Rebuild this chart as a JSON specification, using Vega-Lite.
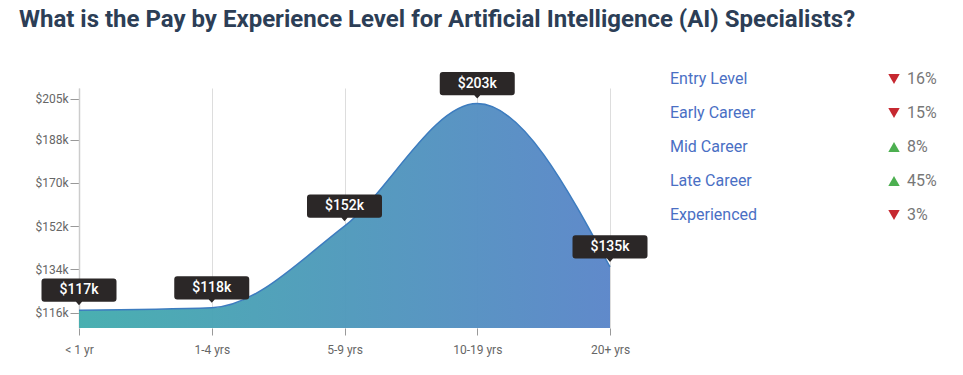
{
  "$schema": "https://vega.github.io/schema/vega-lite/v6.json",
  "background": "white",
  "padding": {"left": 18, "top": 8, "right": 5, "bottom": 5},
  "config": {"font": "Roboto", "view": {"stroke": null}},
  "title": {"text": "What is the Pay by Experience Level for Artificial Intelligence (AI) Specialists?", "anchor": "start", "fontSize": 24, "fontWeight": "bold", "color": "#2c3e56", "font": "Roboto", "offset": 39, "frame": "bounds", "dx": -16},
  "datasets": {
    "pay": [
      {"exp": "< 1 yr", "pay": 117, "label": "$117k"},
      {"exp": "1-4 yrs", "pay": 118, "label": "$118k"},
      {"exp": "5-9 yrs", "pay": 152, "label": "$152k"},
      {"exp": "10-19 yrs", "pay": 203, "label": "$203k"},
      {"exp": "20+ yrs", "pay": 135, "label": "$135k"}
    ],
    "legend": [
      {"level": "Entry Level", "dir": "down", "pct": "16%"},
      {"level": "Early Career", "dir": "down", "pct": "15%"},
      {"level": "Mid Career", "dir": "up", "pct": "8%"},
      {"level": "Late Career", "dir": "up", "pct": "45%"},
      {"level": "Experienced", "dir": "down", "pct": "3%"}
    ]
  },
  "hconcat": [
    {
      "width": 531,
      "height": 240,
      "data": {"name": "pay"},
      "encoding": {
        "x": {"field": "exp", "type": "ordinal", "sort": null, "scale": {"type": "point", "padding": 0},
          "axis": {"title": null, "labelAngle": 0, "labelColor": "#666", "labelFontSize": 12, "labelPadding": 9, "tickSize": 7, "tickColor": "#999", "domain": false, "grid": true, "gridColor": "#ddd", "gridWidth": 1}}
      },
      "layer": [
        {
          "mark": {"type": "area", "interpolate": "monotone", "color": {"gradient": "linear", "x1": 0, "x2": 1, "y1": 0, "y2": 0, "stops": [{"offset": 0, "color": "#44adae"}, {"offset": 1, "color": "#5b86c9"}]}, "opacity": 0.97},
          "encoding": {
            "y": {"field": "pay", "type": "quantitative", "scale": {"domain": [109.6, 209.5], "nice": false, "zero": false},
              "axis": {"title": null, "values": [116, 134, 152, 170, 188, 205], "labelExpr": "'$' + datum.value + 'k'", "labelColor": "#666", "labelFontSize": 12, "tickSize": 9, "tickColor": "#999", "labelPadding": 2, "domainColor": "#ccc", "domainWidth": 1.5, "grid": false}},
            "y2": {"datum": 109.6}
          }
        },
        {
          "mark": {"type": "line", "interpolate": "monotone", "color": "#3d7cbf", "strokeWidth": 1.5},
          "encoding": {"y": {"field": "pay", "type": "quantitative"}}
        },
        {
          "mark": {"type": "point", "filled": true, "color": "#2b2727", "opacity": 1, "size": 5625, "yOffset": -20,
            "shape": "M-0.92,-0.31 L0.92,-0.31 Q1,-0.31 1,-0.23 L1,0.23 Q1,0.31 0.92,0.31 L0.08,0.31 L0,0.4 L-0.08,0.31 L-0.92,0.31 Q-1,0.31 -1,0.23 L-1,-0.23 Q-1,-0.31 -0.92,-0.31 Z"},
          "encoding": {"y": {"field": "pay", "type": "quantitative"}}
        },
        {
          "mark": {"type": "text", "color": "white", "fontSize": 14, "fontWeight": 500, "yOffset": -20, "baseline": "middle", "align": "center"},
          "encoding": {"y": {"field": "pay", "type": "quantitative"}, "text": {"field": "label"}}
        }
      ]
    },
    {
      "width": 280,
      "height": 130,
      "data": {"name": "legend"},
      "encoding": {
        "y": {"field": "level", "type": "nominal", "sort": null, "scale": {"type": "point", "padding": 0, "range": [-9, 127]}, "axis": null}
      },
      "layer": [
        {
          "mark": {"type": "text", "align": "left", "baseline": "middle", "fontSize": 16, "color": "#4a6fc4"},
          "encoding": {"x": {"datum": 0, "type": "quantitative", "scale": {"domain": [0, 280], "range": [0, 280]}, "axis": null}, "text": {"field": "level"}}
        },
        {
          "mark": {"type": "point", "filled": true, "opacity": 1, "size": 130},
          "encoding": {
            "x": {"datum": 224, "type": "quantitative"},
            "shape": {"field": "dir", "type": "nominal", "scale": {"domain": ["down", "up"], "range": ["triangle-down", "triangle-up"]}, "legend": null},
            "color": {"field": "dir", "type": "nominal", "scale": {"domain": ["down", "up"], "range": ["#c62830", "#4caf50"]}, "legend": null}
          }
        },
        {
          "mark": {"type": "text", "align": "left", "baseline": "middle", "fontSize": 16, "color": "#777"},
          "encoding": {"x": {"datum": 237, "type": "quantitative"}, "text": {"field": "pct"}}
        }
      ]
    }
  ],
  "spacing": 22
}
